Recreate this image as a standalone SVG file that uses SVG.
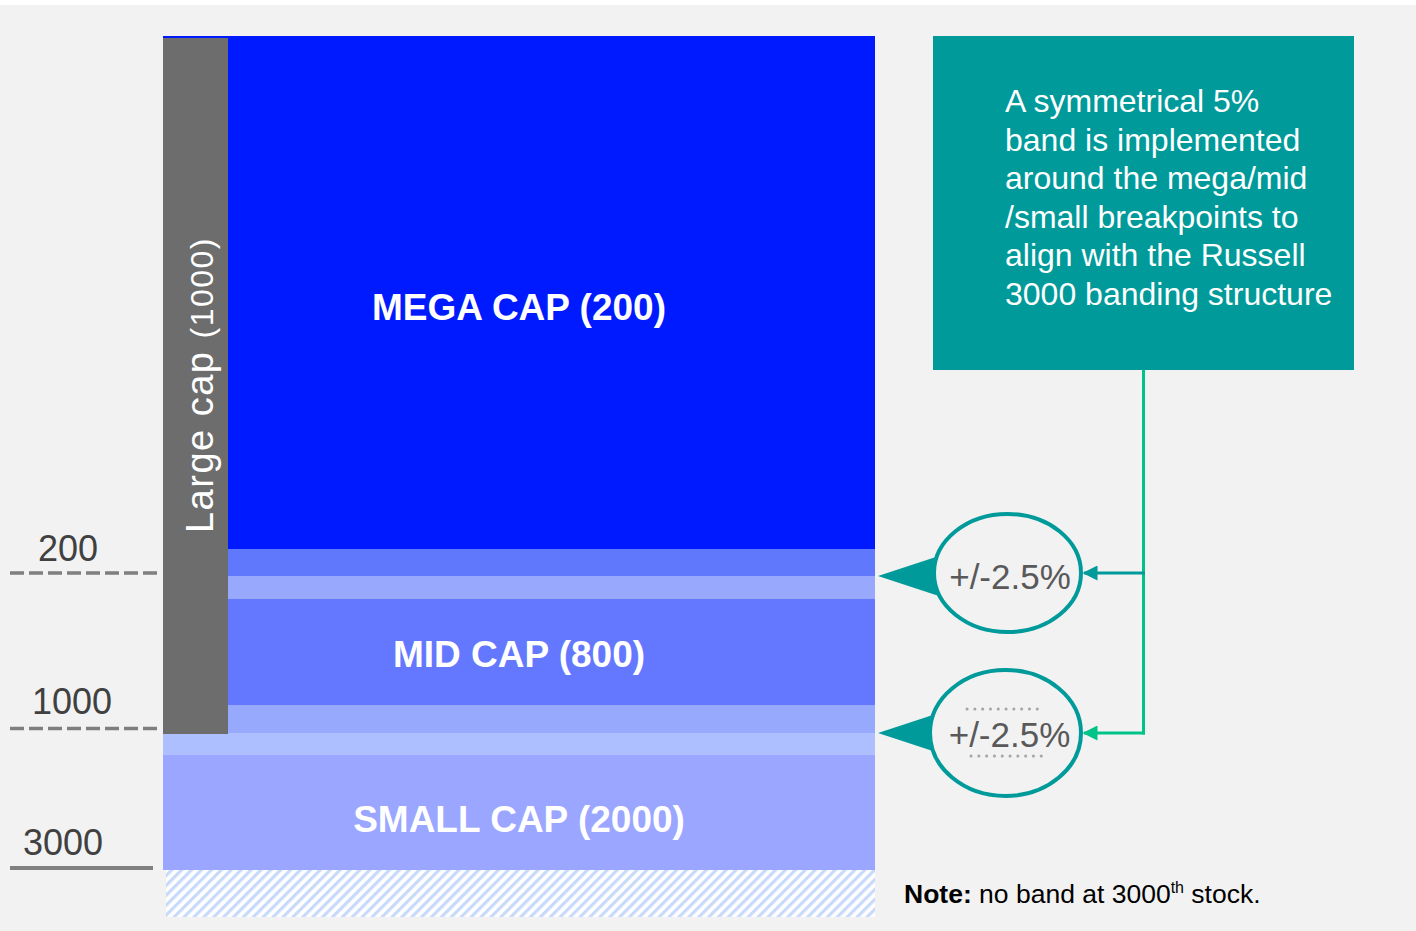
<svg xmlns="http://www.w3.org/2000/svg" width="1416" height="931" viewBox="0 0 1416 931">
  <style>
    .sans { font-family: "Liberation Sans", Arial, sans-serif; }
    .tick { font-family: "Liberation Sans", Arial, sans-serif; font-size: 36px; fill: #404040; }
    .seg { font-family: "Liberation Sans", Arial, sans-serif; font-size: 37px; font-weight: bold; fill: #ffffff; text-anchor: middle; }
    .pct { font-family: "Liberation Sans", Arial, sans-serif; font-size: 35px; fill: #595959; text-anchor: middle; }
    .boxtxt { font-family: "Liberation Sans", Arial, sans-serif; font-size: 32px; fill: #ffffff; }
    .dash { stroke: #7f7f7f; stroke-width: 3.5; stroke-dasharray: 14 5; fill: none; }
    .bubble { fill: #f2f2f2; stroke: #009a9a; stroke-width: 4; }
    .dots { stroke: #a6a6a6; stroke-width: 3; stroke-dasharray: 0.1 7.7; stroke-linecap: round; fill: none; }
  </style>
  <defs>
    <pattern id="hatch" patternUnits="userSpaceOnUse" width="7" height="7" patternTransform="rotate(45)">
      <rect width="7" height="7" fill="#ffffff"/>
      <rect width="3.2" height="7" fill="#c8dafa"/>
    </pattern>
    <marker id="arrTeal" viewBox="0 0 10 10" refX="9" refY="5" markerWidth="5" markerHeight="5" orient="auto" markerUnits="strokeWidth">
      <path d="M0,0 L10,5 L0,10 Z" fill="#009a9a"/>
    </marker>
    <marker id="arrGreen" viewBox="0 0 10 10" refX="9" refY="5" markerWidth="5" markerHeight="5" orient="auto" markerUnits="strokeWidth">
      <path d="M0,0 L10,5 L0,10 Z" fill="#00c389"/>
    </marker>
  </defs>

  <rect x="0" y="0" width="1416" height="931" fill="#ffffff"/>
  <rect x="0" y="5" width="1416" height="926" fill="#f2f2f2"/>

  <g id="scale">
    <text class="tick" x="38" y="561">200</text>
    <line class="dash" x1="10" y1="573" x2="157" y2="573"/>
    <text class="tick" x="32" y="714">1000</text>
    <line class="dash" x1="10" y1="728.5" x2="162" y2="728.5"/>
    <text class="tick" x="23" y="855">3000</text>
    <line x1="10" y1="868" x2="153" y2="868" stroke="#808080" stroke-width="4"/>
  </g>

  <g id="mega-cap">
    <rect x="163" y="36" width="712" height="513" fill="#001aff"/>
    <text class="seg" x="519" y="320">MEGA CAP (200)</text>
  </g>

  <g id="band-200">
    <rect x="163" y="549" width="712" height="27" fill="#6078fb"/>
    <rect x="163" y="576" width="712" height="23" fill="#98a8fd"/>
  </g>

  <g id="mid-cap">
    <rect x="163" y="599" width="712" height="106" fill="#6478ff"/>
    <text class="seg" x="519" y="667">MID CAP (800)</text>
  </g>

  <g id="band-1000">
    <rect x="163" y="705" width="712" height="28" fill="#97a9fd"/>
    <rect x="163" y="733" width="712" height="22" fill="#adbffe"/>
  </g>

  <g id="small-cap">
    <rect x="163" y="755" width="712" height="115" fill="#9aa6ff"/>
    <text class="seg" x="519" y="832">SMALL CAP (2000)</text>
  </g>

  <g id="no-band">
    <rect x="166" y="870" width="709" height="47" fill="url(#hatch)"/>
  </g>

  <g id="large-cap">
    <rect x="163" y="38" width="65" height="696" fill="#6d6d6d"/>
    <text class="sans" transform="translate(213,385) rotate(-90)" text-anchor="middle" fill="#ffffff" letter-spacing="1.5"><tspan font-size="38">Large cap </tspan><tspan font-size="32">(1000)</tspan></text>
  </g>

  <g id="note-box">
    <rect x="933" y="36" width="421" height="334" fill="#009a9a"/>
    <text class="boxtxt">
      <tspan x="1005" y="112">A symmetrical 5%</tspan>
      <tspan x="1005" y="150.5">band is implemented</tspan>
      <tspan x="1005" y="189">around the mega/mid</tspan>
      <tspan x="1005" y="227.5">/small breakpoints to</tspan>
      <tspan x="1005" y="266">align with the Russell</tspan>
      <tspan x="1005" y="304.5">3000 banding structure</tspan>
    </text>
  </g>

  <g id="connectors">
    <line x1="1143.5" y1="370" x2="1143.5" y2="734.5" stroke="#00c389" stroke-width="3"/>
    <line x1="1145" y1="573" x2="1084" y2="573" stroke="#009a9a" stroke-width="3" marker-end="url(#arrTeal)"/>
    <line x1="1145" y1="733" x2="1084" y2="733" stroke="#00c389" stroke-width="3" marker-end="url(#arrGreen)"/>
  </g>

  <g id="band-callout-200">
    <polygon points="878,576 945,554 945,598" fill="#009a9a"/>
    <ellipse class="bubble" cx="1007.5" cy="573" rx="73.5" ry="59"/>
    <text class="pct" x="1010" y="589">+/-2.5%</text>
  </g>

  <g id="band-callout-1000">
    <polygon points="878,733 945,711 945,755" fill="#009a9a"/>
    <ellipse class="bubble" cx="1005.5" cy="733" rx="75.5" ry="63"/>
    <line class="dots" x1="967" y1="709" x2="1044" y2="709"/>
    <text class="pct" x="1009.5" y="747">+/-2.5%</text>
    <line class="dots" x1="971" y1="756" x2="1048" y2="756"/>
  </g>

  <g id="footnote">
    <text class="sans" x="904" y="903" font-size="26.5" fill="#000000"><tspan font-weight="bold">Note:</tspan> no band at 3000<tspan font-size="16" dy="-10">th</tspan><tspan dy="10"> stock.</tspan></text>
  </g>
</svg>
